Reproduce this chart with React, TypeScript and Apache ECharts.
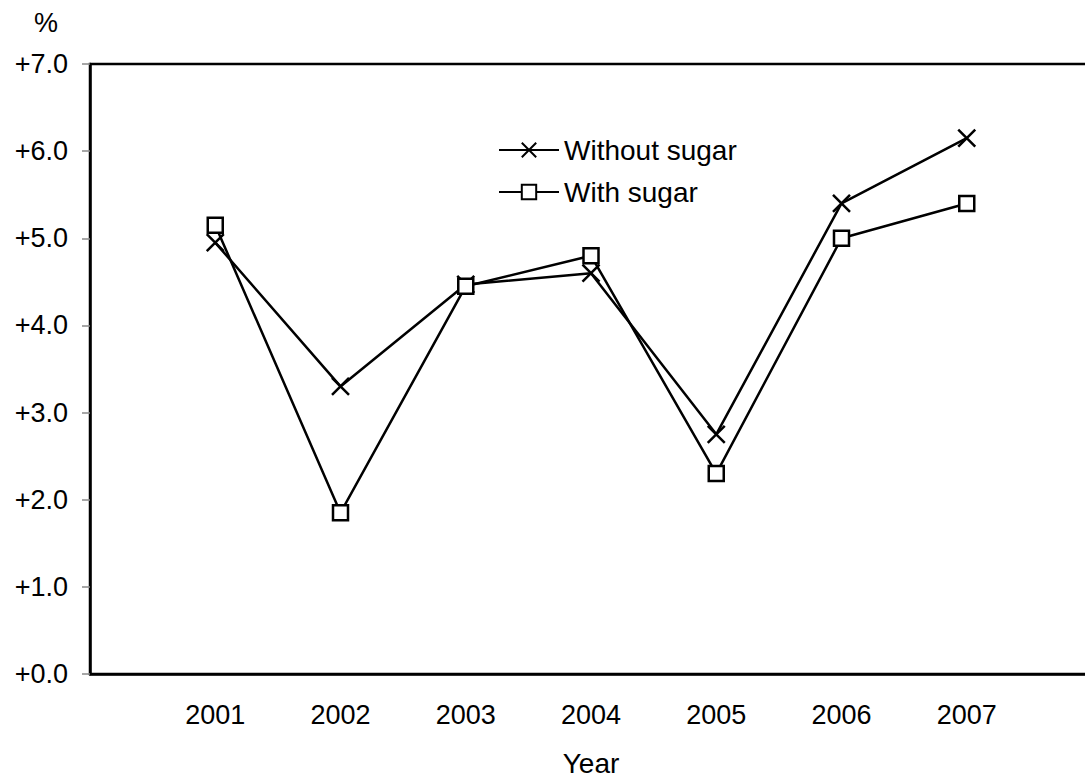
import React, { useEffect, useRef } from "react";
import * as echarts from "echarts";

const years = [2001, 2002, 2003, 2004, 2005, 2006, 2007];
const withoutSugar = [4.95, 3.3, 4.47, 4.6, 2.75, 5.4, 6.15];
const withSugar = [5.15, 1.85, 4.45, 4.8, 2.3, 5.0, 5.4];
const seriesNames = ["Without sugar", "With sugar"];
const yTickValues = [0, 1, 2, 3, 4, 5, 6, 7];

const FONT = "'Liberation Sans', Arial, sans-serif";
const FS = 27;
const FS_BIG = 28;

export default function App() {
  const ref = useRef<HTMLDivElement>(null);
  useEffect(() => {
    if (!ref.current) return;
    const chart = echarts.init(ref.current, undefined, { renderer: "svg" });
    const crossPath = "path://M0,0L10,10M10,0L0,10";
    chart.setOption({
      animation: false,
      backgroundColor: "#fff",
      textStyle: { fontFamily: FONT, color: "#000" },
      grid: {
        left: 90,
        top: 64,
        right: -7,
        bottom: 105,
        containLabel: false,
        outerBoundsMode: "none",
        show: true,
        borderColor: "#000",
        borderWidth: 2.5,
        backgroundColor: "transparent",
      },
      legend: {
        orient: "vertical",
        left: 493,
        top: 131,
        itemWidth: 60,
        itemHeight: 18,
        itemGap: 14,
        data: seriesNames,
        textStyle: { fontSize: FS_BIG, color: "#000", fontFamily: FONT },
      },
      xAxis: {
        type: "value",
        min: 2000,
        max: 2008,
        interval: 1,
        name: "Year",
        nameLocation: "middle",
        nameGap: 75,
        nameTextStyle: { fontSize: FS_BIG, color: "#000", fontFamily: FONT },
        axisLine: { show: true, lineStyle: { color: "#000", width: 2.5 } },
        axisTick: { show: false },
        splitLine: { show: false },
        axisLabel: {
          fontSize: FS,
          color: "#000",
          fontFamily: FONT,
          margin: 27,
          formatter: (v: number) => (years.includes(v) ? String(v) : ""),
        },
      },
      yAxis: {
        type: "value",
        min: yTickValues[0],
        max: yTickValues[yTickValues.length - 1],
        interval: 1,
        axisLine: { show: true, lineStyle: { color: "#000", width: 2.5 } },
        axisTick: { show: true, length: 8, lineStyle: { color: "#888", width: 1.5 } },
        splitLine: { show: false },
        axisLabel: {
          fontSize: FS,
          color: "#000",
          fontFamily: FONT,
          margin: 22,
          formatter: (v: number) => "+" + v.toFixed(1),
        },
      },
      graphic: [
        {
          type: "text",
          left: 34,
          top: 9,
          style: { text: "%", fontSize: FS, fill: "#000", fontFamily: FONT },
        },
      ],
      series: [
        {
          name: seriesNames[0],
          type: "line",
          data: years.map((y, i) => [y, withoutSugar[i]]),
          symbol: crossPath,
          symbolSize: 17,
          lineStyle: { color: "#000", width: 2.5 },
          itemStyle: { color: "none", borderColor: "#000", borderWidth: 2.5 },
        },
        {
          name: seriesNames[1],
          type: "line",
          data: years.map((y, i) => [y, withSugar[i]]),
          symbol: "rect",
          symbolSize: 15,
          lineStyle: { color: "#000", width: 2.5 },
          itemStyle: { color: "#fff", borderColor: "#000", borderWidth: 2.5 },
          z: 3,
        },
      ],
    });
    return () => chart.dispose();
  }, []);
  return (
    <div
      ref={ref}
      style={{ position: "fixed", left: 0, top: 0, width: 1085, height: 779 }}
    />
  );
}
